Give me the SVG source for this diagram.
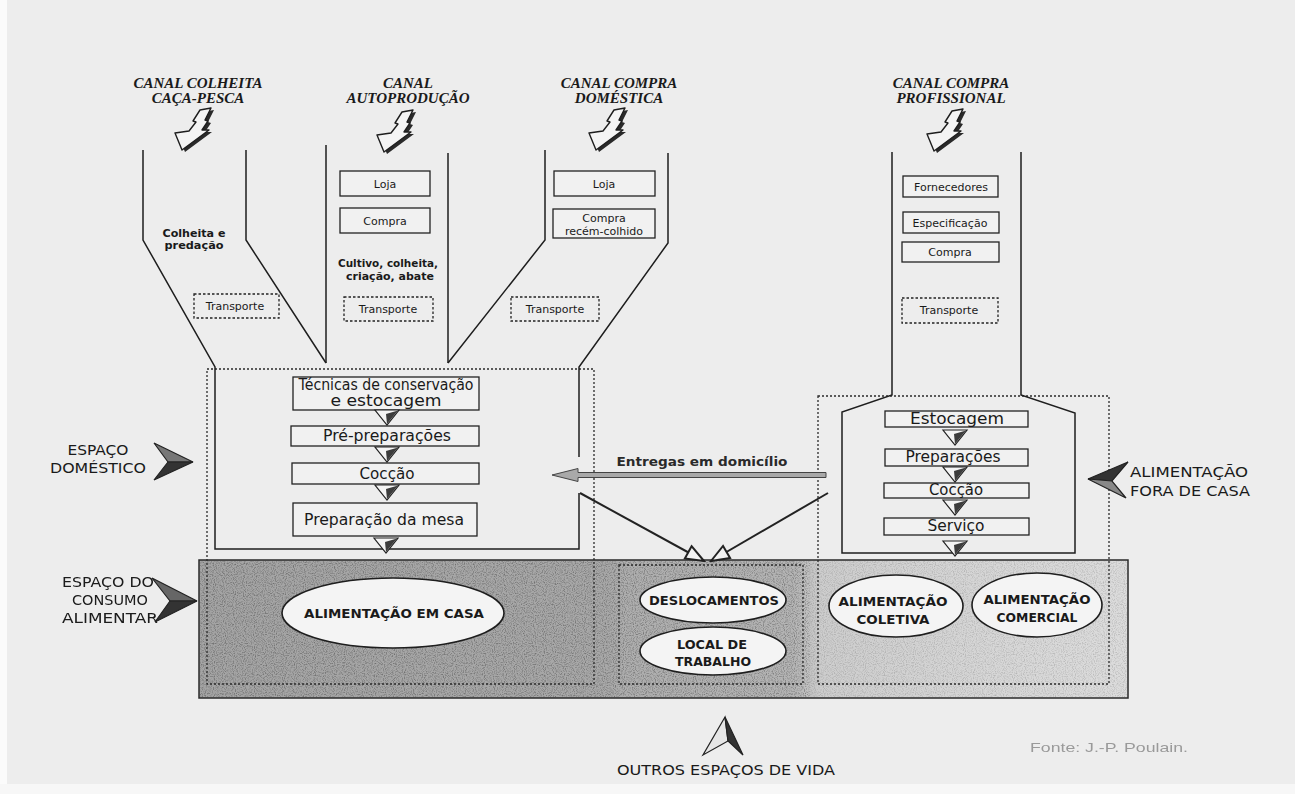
<svg xmlns="http://www.w3.org/2000/svg" xmlns:xlink="http://www.w3.org/1999/xlink" width="1295" height="794" viewBox="0 0 1295 794">
<defs>
<style>
.ln{fill:none;stroke:#1e1e1e;stroke-width:1.5}
.dot{fill:none;stroke:#2a2a2a;stroke-width:1.3;stroke-dasharray:2 2}
.box{fill:#f1f1f1;stroke:#222;stroke-width:1.3}
.dbox{fill:none;stroke:#222;stroke-width:1.3;stroke-dasharray:2.5 2}
.ell{fill:#f4f4f4;stroke:#1e1e1e;stroke-width:1.6}
.ttl{font-family:"Liberation Serif",serif;font-weight:bold;font-style:italic;font-size:15px;fill:#1a1a1a;text-anchor:middle}
.sm{font-family:"DejaVu Sans",sans-serif;font-size:11px;fill:#1a1a1a;text-anchor:middle}
.smb{font-family:"DejaVu Sans",sans-serif;font-size:11px;font-weight:bold;fill:#1a1a1a;text-anchor:middle}
.st{font-family:"DejaVu Sans",sans-serif;font-size:15px;fill:#1a1a1a;text-anchor:middle}
.cap{font-family:"DejaVu Sans",sans-serif;font-size:14px;fill:#1a1a1a}
.capb{font-family:"DejaVu Sans",sans-serif;font-size:13px;font-weight:bold;fill:#1a1a1a;text-anchor:middle}
</style>
<linearGradient id="grayfill" x1="0" y1="0" x2="1" y2="0">
<stop offset="0" stop-color="#a4a4a4"/>
<stop offset="0.44" stop-color="#a8a8a8"/>
<stop offset="0.46" stop-color="#aeaeae"/>
<stop offset="0.64" stop-color="#b4b4b4"/>
<stop offset="0.67" stop-color="#cdcdcd"/>
<stop offset="0.8" stop-color="#d4d4d4"/>
<stop offset="1" stop-color="#dcdcdc"/>
</linearGradient>
<filter id="grain" x="0" y="0" width="1" height="1">
<feTurbulence type="fractalNoise" baseFrequency="0.9" numOctaves="1" seed="4" result="n"/>
<feColorMatrix in="n" type="matrix" values="0 0 0 0 0  0 0 0 0 0  0 0 0 0 0  2.8 0 0 0 -1.25"/>
</filter>
<filter id="soft"><feGaussianBlur stdDeviation="0.6"/></filter>
<g id="chanArrow">
<polygon points="29,4 40,2 34,14 37,15 31,24 38,24 11,44 4,27 18,25 25,16 22,15" fill="#2a2a2a"/>
<polygon points="26,2 37,0 31,12 34,13 28,22 35,22 8,42 1,25 15,23 22,14 19,13" fill="#f4f4f4" stroke="#1e1e1e" stroke-width="1.4" stroke-linejoin="round"/>
</g>
<g id="tri">
<polygon points="-12,0 12,0 0,15" fill="#f4f4f4" stroke="#222" stroke-width="1.2"/>
<polygon points="-1,4 11,0.6 0,14" fill="#3c3c3c"/>
</g>
<marker id="openTri" viewBox="0 0 22 18" refX="20" refY="9" markerWidth="22" markerHeight="18" markerUnits="userSpaceOnUse" orient="auto">
<path d="M2,2 L20,9 L2,16 z" fill="#f2f2f2" stroke="#222" stroke-width="2"/>
</marker>
</defs>

<rect x="0" y="0" width="1295" height="794" fill="#ededed"/>
<rect x="0" y="0" width="7" height="794" fill="#fbfbfb"/>
<rect x="0" y="784" width="1295" height="10" fill="#f7f7f7"/>

<!-- consumption space (gray band) -->
<g id="consumo-space">
<rect x="199" y="560" width="929" height="138" fill="url(#grayfill)" stroke="#2a2a2a" stroke-width="1.5"/>
<rect x="200" y="561" width="610" height="136" fill="#000" filter="url(#grain)" opacity="0.32"/>
<rect x="810" y="561" width="317" height="136" fill="#000" filter="url(#grain)" opacity="0.16"/>
</g>

<!-- dotted areas -->
<g id="areas">
<rect class="dot" x="207" y="369" width="387" height="315"/>
<rect class="dot" x="818" y="396" width="291" height="288"/>
<rect class="dot" x="619" y="565" width="184" height="119"/>
</g>

<!-- channel outlines -->
<g id="outlines">
<polyline class="ln" points="143,150 143,240 215,367 215,549 579,549 579,493"/>
<polyline class="ln" points="579,457 579,367 668,243 668,153"/>
<polyline class="ln" points="246,150 246,240 326,363"/>
<polyline class="ln" points="326,145 326,363"/>
<polyline class="ln" points="448,153 448,363"/>
<polyline class="ln" points="545,150 545,240 448,363"/>
<polyline class="ln" points="892,152 892,395 842,412 842,553 1075,553 1075,413 1021,395 1021,152"/>
</g>

<!-- channel titles and arrows -->
<g id="canal-colheita">
<text class="ttl" x="198" y="88">CANAL COLHEITA</text>
<text class="ttl" x="198" y="103">CAÇA-PESCA</text>
<use xlink:href="#chanArrow" href="#chanArrow" x="174" y="108"/>
</g>
<g id="canal-autoproducao">
<text class="ttl" x="408" y="88">CANAL</text>
<text class="ttl" x="408" y="103">AUTOPRODUÇÃO</text>
<use xlink:href="#chanArrow" href="#chanArrow" x="376" y="110"/>
</g>
<g id="canal-compra-domestica">
<text class="ttl" x="619" y="88">CANAL COMPRA</text>
<text class="ttl" x="619" y="103">DOMÉSTICA</text>
<use xlink:href="#chanArrow" href="#chanArrow" x="588" y="108"/>
</g>
<g id="canal-compra-profissional">
<text class="ttl" x="951" y="88">CANAL COMPRA</text>
<text class="ttl" x="951" y="103">PROFISSIONAL</text>
<use xlink:href="#chanArrow" href="#chanArrow" x="926" y="109"/>
</g>

<!-- channel 1 contents -->
<g id="colheita-predacao">
<text class="smb" x="194" y="237" textLength="63" lengthAdjust="spacingAndGlyphs">Colheita e</text>
<text class="smb" x="194" y="249" textLength="59" lengthAdjust="spacingAndGlyphs">predação</text>
</g>
<g id="transporte-1">
<rect class="dbox" x="194" y="294" width="85" height="24"/>
<text class="sm" x="235" y="310">Transporte</text>
</g>

<!-- channel 2 contents -->
<g id="loja-2">
<rect class="box" x="340" y="171" width="90" height="25"/>
<text class="sm" x="385" y="188">Loja</text>
</g>
<g id="compra-2">
<rect class="box" x="340" y="208" width="90" height="25"/>
<text class="sm" x="385" y="225">Compra</text>
</g>
<g id="cultivo">
<text class="smb" x="388" y="267" textLength="100" lengthAdjust="spacingAndGlyphs">Cultivo, colheita,</text>
<text class="smb" x="390" y="280" textLength="88" lengthAdjust="spacingAndGlyphs">criação, abate</text>
</g>
<g id="transporte-2">
<rect class="dbox" x="344" y="297" width="89" height="24"/>
<text class="sm" x="388" y="313">Transporte</text>
</g>

<!-- channel 3 contents -->
<g id="loja-3">
<rect class="box" x="554" y="171" width="101" height="25"/>
<text class="sm" x="604" y="188">Loja</text>
</g>
<g id="compra-recem">
<rect class="box" x="553" y="209" width="102" height="29"/>
<text class="sm" x="604" y="222">Compra</text>
<text class="sm" x="604" y="235">recém-colhido</text>
</g>
<g id="transporte-3">
<rect class="dbox" x="511" y="297" width="88" height="24"/>
<text class="sm" x="555" y="313">Transporte</text>
</g>

<!-- channel 4 contents -->
<g id="fornecedores">
<rect class="box" x="903" y="176" width="95" height="21"/>
<text class="sm" x="951" y="191">Fornecedores</text>
</g>
<g id="especificacao">
<rect class="box" x="903" y="212" width="96" height="21"/>
<text class="sm" x="950" y="227">Especificação</text>
</g>
<g id="compra-4">
<rect class="box" x="902" y="242" width="97" height="20"/>
<text class="sm" x="950" y="256">Compra</text>
</g>
<g id="transporte-4">
<rect class="dbox" x="902" y="298" width="96" height="25"/>
<text class="sm" x="949" y="314">Transporte</text>
</g>

<!-- domestic steps -->
<g id="tecnicas">
<rect class="box" x="293" y="377" width="186" height="33"/>
<text class="st" x="386" y="390" font-size="12.5" textLength="175" lengthAdjust="spacingAndGlyphs">Técnicas de conservação</text>
<text class="st" x="386" y="406" font-size="12.5" textLength="111" lengthAdjust="spacingAndGlyphs">e estocagem</text>
</g>
<g id="pre-preparacoes">
<rect class="box" x="291" y="426" width="188" height="20"/>
<text class="st" x="387" y="441" textLength="128" lengthAdjust="spacingAndGlyphs">Pré-preparações</text>
</g>
<g id="coccao-dom">
<rect class="box" x="292" y="463" width="187" height="21"/>
<text class="st" x="387" y="479" textLength="55" lengthAdjust="spacingAndGlyphs">Cocção</text>
</g>
<g id="preparacao-mesa">
<rect class="box" x="293" y="503" width="184" height="33"/>
<text class="st" x="384" y="525" textLength="160" lengthAdjust="spacingAndGlyphs">Preparação da mesa</text>
</g>

<!-- professional steps -->
<g id="estocagem">
<rect class="box" x="885" y="411" width="143" height="16"/>
<text class="st" x="957" y="424" textLength="94" lengthAdjust="spacingAndGlyphs">Estocagem</text>
</g>
<g id="preparacoes">
<rect class="box" x="885" y="449" width="143" height="17"/>
<text class="st" x="953" y="462" textLength="95" lengthAdjust="spacingAndGlyphs">Preparações</text>
</g>
<g id="coccao-pro">
<rect class="box" x="884" y="483" width="145" height="15"/>
<text class="st" x="956" y="495" textLength="54" lengthAdjust="spacingAndGlyphs">Cocção</text>
</g>
<g id="servico">
<rect class="box" x="884" y="518" width="145" height="17"/>
<text class="st" x="956" y="531" textLength="57" lengthAdjust="spacingAndGlyphs">Serviço</text>
</g>

<!-- consumption ellipses -->
<g id="alimentacao-em-casa">
<ellipse class="ell" cx="393" cy="613" rx="111" ry="35"/>
<text class="capb" x="394" y="618" textLength="180" lengthAdjust="spacingAndGlyphs">ALIMENTAÇÃO EM CASA</text>
</g>
<g id="deslocamentos">
<ellipse class="ell" cx="713" cy="600" rx="73" ry="23"/>
<text class="capb" x="714" y="605" textLength="130" lengthAdjust="spacingAndGlyphs">DESLOCAMENTOS</text>
</g>
<g id="local-trabalho">
<ellipse class="ell" cx="713" cy="651" rx="73" ry="24"/>
<text class="capb" x="712" y="649" textLength="70" lengthAdjust="spacingAndGlyphs">LOCAL DE</text>
<text class="capb" x="713" y="666" textLength="76" lengthAdjust="spacingAndGlyphs">TRABALHO</text>
</g>
<g id="alimentacao-coletiva">
<ellipse class="ell" cx="896" cy="606" rx="67" ry="31"/>
<text class="capb" x="893" y="606" textLength="109" lengthAdjust="spacingAndGlyphs">ALIMENTAÇÃO</text>
<text class="capb" x="893" y="624" textLength="73" lengthAdjust="spacingAndGlyphs">COLETIVA</text>
</g>
<g id="alimentacao-comercial">
<ellipse class="ell" cx="1037" cy="605" rx="65" ry="32"/>
<text class="capb" x="1037" y="604" textLength="107" lengthAdjust="spacingAndGlyphs">ALIMENTAÇÃO</text>
<text class="capb" x="1037" y="622" textLength="81" lengthAdjust="spacingAndGlyphs">COMERCIAL</text>
</g>

<!-- side labels -->
<g id="espaco-domestico">
<text class="cap" x="98" y="455" text-anchor="middle" textLength="61" lengthAdjust="spacingAndGlyphs">ESPAÇO</text>
<text class="cap" x="98" y="473" text-anchor="middle" textLength="96" lengthAdjust="spacingAndGlyphs">DOMÉSTICO</text>
<polygon points="154,443 193,462 168,462" fill="#777" stroke="#222" stroke-width="1.2"/>
<polygon points="168,462 193,462 154,480" fill="#333" stroke="#222" stroke-width="1.2"/>
</g>
<g id="espaco-consumo">
<g filter="url(#soft)">
<text class="cap" x="108" y="587" text-anchor="middle" fill="#4a4a4a" textLength="92" lengthAdjust="spacingAndGlyphs">ESPAÇO DO</text>
<text class="cap" x="110" y="605" text-anchor="middle" fill="#4a4a4a" textLength="76" lengthAdjust="spacingAndGlyphs">CONSUMO</text>
<text class="cap" x="110" y="623" text-anchor="middle" fill="#4a4a4a" textLength="96" lengthAdjust="spacingAndGlyphs">ALIMENTAR</text>
</g>
<polygon points="152,578 197,601 170,601" fill="#666" stroke="#222" stroke-width="1.2"/>
<polygon points="170,601 197,601 155,622" fill="#333" stroke="#222" stroke-width="1.2"/>
</g>
<g id="fora-de-casa">
<text class="cap" x="1130" y="477" textLength="118" lengthAdjust="spacingAndGlyphs">ALIMENTAÇÃO</text>
<text class="cap" x="1130" y="496" textLength="120" lengthAdjust="spacingAndGlyphs">FORA DE CASA</text>
<polygon points="1128,462 1088,479 1112,481" fill="#333" stroke="#222" stroke-width="1.2"/>
<polygon points="1112,481 1088,479 1126,498" fill="#888" stroke="#222" stroke-width="1.2"/>
</g>
<g id="outros-espacos">
<polygon points="725,717 703,755 728,741" fill="#e6e6e6" stroke="#222" stroke-width="1.2"/>
<polygon points="725,717 728,741 743,755" fill="#333" stroke="#222" stroke-width="1.2"/>
<text class="cap" x="726" y="775" text-anchor="middle" textLength="218" lengthAdjust="spacingAndGlyphs">OUTROS ESPAÇOS DE VIDA</text>
</g>
<g id="fonte" filter="url(#soft)">
<text x="1030" y="752" font-family="Liberation Sans, sans-serif" font-size="13" fill="#9a9a9a" textLength="158" lengthAdjust="spacingAndGlyphs">Fonte: J.-P. Poulain.</text>
</g>

<!-- connectors -->
<g id="connectors">
<use xlink:href="#tri" href="#tri" x="387" y="410"/>
<use xlink:href="#tri" href="#tri" x="387" y="447"/>
<use xlink:href="#tri" href="#tri" x="387" y="485"/>
<use xlink:href="#tri" href="#tri" x="386" y="538"/>
<use xlink:href="#tri" href="#tri" x="955" y="430"/>
<use xlink:href="#tri" href="#tri" x="955" y="467"/>
<use xlink:href="#tri" href="#tri" x="955" y="500"/>
<use xlink:href="#tri" href="#tri" x="955" y="541"/>
<polygon points="552,475 578,468.5 578,472.5 826,472.5 826,477.5 578,477.5 578,481.5" fill="#a9a9a9" stroke="#444" stroke-width="1"/>
<text x="702" y="466" font-family="DejaVu Sans, sans-serif" font-size="13" font-weight="bold" fill="#2a2a2a" text-anchor="middle" textLength="171" lengthAdjust="spacingAndGlyphs">Entregas em domicílio</text>
<line x1="580" y1="493" x2="704" y2="561" stroke="#222" stroke-width="2" marker-end="url(#openTri)"/>
<line x1="828" y1="493" x2="711" y2="561" stroke="#222" stroke-width="2" marker-end="url(#openTri)"/>
</g>
</svg>
